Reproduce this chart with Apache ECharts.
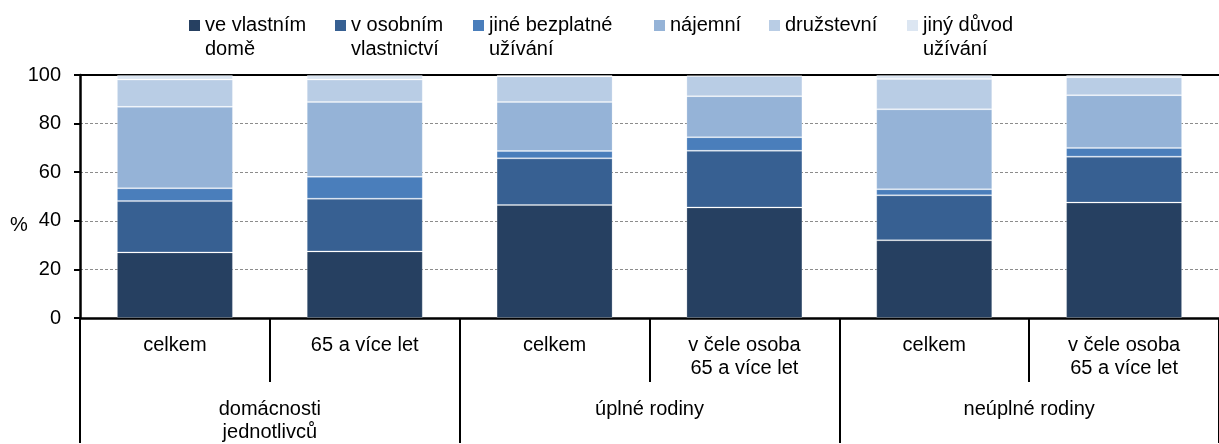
<!DOCTYPE html>
<html>
<head>
<meta charset="utf-8">
<script src="https://cdn.jsdelivr.net/npm/echarts@6/dist/echarts.min.js"></script>
<style>
html,body{margin:0;padding:0;background:#fff;overflow:hidden;}
#chart{width:1219px;height:444px;}
</style>
</head>
<body>
<div id="chart"></div>
<script>
// Categories (level 1 and level 2)
const categories = ['celkem', '65 a více let', 'celkem', 'v čele osoba\n65 a více let', 'celkem', 'v čele osoba\n65 a více let'];
const groups = ['domácnosti\njednotlivců', 'úplné rodiny', 'neúplné rodiny'];

// Series names and legend labels
const seriesNames = ['ve vlastním domě', 'v osobním vlastnictví', 'jiné bezplatné užívání', 'nájemní', 'družstevní', 'jiný důvod užívání'];
const legendLabels = ['ve vlastním\ndomě', 'v osobním\nvlastnictví', 'jiné bezplatné\nužívání', 'nájemní', 'družstevní', 'jiný důvod\nužívání'];

// Values (%)
const veVlastnimDome = [27.0, 27.4, 46.5, 45.5, 32.0, 47.5];
const vOsobnimVlastnictvi = [21.1, 21.7, 19.2, 23.3, 18.5, 18.9];
const jineBezplatne = [5.3, 9.0, 3.0, 5.6, 2.5, 3.6];
const najemni = [33.5, 30.8, 20.2, 16.9, 32.9, 21.7];
const druzstevni = [11.2, 9.2, 10.5, 8.3, 12.5, 7.4];
const jinyDuvod = [1.9, 1.9, 0.6, 0.4, 1.6, 0.9];

// Tick labels
const yTicks = [0, 20, 40, 60, 80, 100];

const seriesData = [veVlastnimDome, vOsobnimVlastnictvi, jineBezplatne, najemni, druzstevni, jinyDuvod];
const colors = ['#264061', '#376092', '#4A7EBB', '#95B3D7', '#B9CDE5', '#DCE6F2'];
const legendLeft = [189, 335, 473, 654, 769, 907];

const FONT = '"Liberation Sans", Arial, sans-serif';

const legends = seriesNames.map(function (name, i) {
  const twoLine = legendLabels[i].indexOf('\n') >= 0;
  return {
    data: [name],
    left: legendLeft[i],
    top: twoLine ? -10.5 : 13.5,
    padding: 0,
    orient: 'horizontal',
    icon: 'rect',
    itemWidth: 11,
    itemHeight: 11,
    itemStyle: { borderWidth: 0 },
    selectedMode: false,
    formatter: function () { return twoLine ? '\n' + legendLabels[i] : legendLabels[i]; },
    textStyle: {
      fontFamily: FONT,
      fontSize: 20,
      lineHeight: 24,
      color: '#000'
    }
  };
});

const chart = echarts.init(document.getElementById('chart'), null, { renderer: 'canvas' });

chart.setOption({
  animation: false,
  color: colors,
  legend: legends,
  grid: { left: 80, right: 0, top: 75, height: 249, containLabel: false },
  graphic: [{
    type: 'text',
    left: 10,
    top: 215,
    style: { text: '%', fontFamily: FONT, fontSize: 20, fill: '#000' }
  }],
  xAxis: [
    {
      type: 'category',
      data: categories,
      position: 'bottom',
      axisLine: { show: true, lineStyle: { color: '#000', width: 2.5 } },
      axisTick: { show: true, length: 64, interval: 0, lineStyle: { color: '#000', width: 2 } },
      axisLabel: { interval: 0, margin: 16, fontFamily: FONT, fontSize: 20, lineHeight: 23, color: '#000' },
      splitLine: { show: false }
    },
    {
      type: 'category',
      data: groups,
      position: 'bottom',
      axisLine: { show: false },
      axisTick: { show: true, length: 125, interval: 0, lineStyle: { color: '#000', width: 2 } },
      axisLabel: { interval: 0, margin: 80, fontFamily: FONT, fontSize: 20, lineHeight: 23, color: '#000' },
      splitLine: { show: false }
    },
    {
      type: 'category',
      data: categories,
      position: 'top',
      axisLine: { show: true, lineStyle: { color: '#000', width: 2 } },
      axisTick: { show: false },
      axisLabel: { show: false },
      splitLine: { show: false }
    }
  ],
  yAxis: {
    type: 'value',
    min: yTicks[0],
    max: yTicks[yTicks.length - 1],
    interval: 20,
    axisLine: { show: true, lineStyle: { color: '#000', width: 2.5 } },
    axisTick: { show: true, length: 6, lineStyle: { color: '#000', width: 2 } },
    axisLabel: { margin: 19, fontFamily: FONT, fontSize: 20, color: '#000' },
    splitLine: { show: true, lineStyle: { color: '#8c8c8c', type: [3, 2], width: 1 } }
  },
  series: seriesNames.map(function (name, i) {
    return {
      name: name,
      type: 'bar',
      stack: 'total',
      xAxisIndex: 0,
      barWidth: 116,
      data: seriesData[i],
      itemStyle: { color: colors[i], borderColor: 'rgba(255,255,255,0.22)', borderWidth: 1 },
      emphasis: { disabled: true }
    };
  })
});
</script>
</body>
</html>
